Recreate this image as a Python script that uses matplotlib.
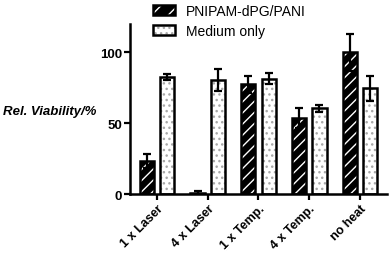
import numpy as np
import matplotlib.pyplot as plt
from matplotlib.patches import Patch

plt.rcParams['font.family'] = ['Liberation Sans', 'DejaVu Sans']
plt.rcParams['hatch.linewidth'] = 1.0

categories = ['1 x Laser', '4 x Laser', '1 x Temp.', '4 x Temp.', 'no heat']
pnipam = [23.5, 1.0, 77.5, 53.5, 100.0]
pnipam_err = [5.0, 1.0, 6.0, 7.0, 13.0]
medium = [82.5, 80.5, 81.5, 60.5, 74.5]
medium_err = [2.0, 8.0, 4.0, 2.5, 9.0]

fig = plt.figure(figsize=(3.89, 2.55), dpi=100)
ax = fig.add_axes([0.334, 0.235, 0.661, 0.667])

x = np.arange(len(categories))
w = 0.28
off = 0.2
dot_col = '#a8a8a8'

# hatched bars: black fill, white stripes, black outline
ax.bar(x - off, pnipam, w, facecolor='black', edgecolor='white', hatch='///', lw=0, zorder=2)
ax.bar(x - off, pnipam, w, fill=False, edgecolor='black', lw=1.8, zorder=3)
ax.errorbar(x - off, pnipam, yerr=pnipam_err, fmt='none', ecolor='black',
            elinewidth=1.6, capsize=3, capthick=1.6, zorder=4)

# dotted bars
ax.bar(x + off, medium, w, facecolor='white', edgecolor=dot_col, hatch='...', lw=0, zorder=2)
ax.bar(x + off, medium, w, fill=False, edgecolor='black', lw=1.8, zorder=3)
ax.errorbar(x + off, medium, yerr=medium_err, fmt='none', ecolor='black',
            elinewidth=1.6, capsize=3, capthick=1.6, zorder=4)

ax.set_xlim(-0.53, 4.53)
ax.set_ylim(0, 120)
ax.set_yticks([0, 50, 100])
ax.set_xticks(x)
ax.set_xticklabels(categories, rotation=45, ha='right', rotation_mode='anchor',
                   fontsize=9, fontweight='bold')
for lab in ax.get_yticklabels():
    lab.set_fontsize(9.5)
    lab.set_fontweight('bold')
ax.tick_params(axis='both', direction='out', length=4, width=1.6, pad=1.5)
ax.tick_params(axis='x', pad=2)

for s in ['top', 'right']:
    ax.spines[s].set_visible(False)
for s in ['left', 'bottom']:
    ax.spines[s].set_linewidth(1.8)

fig.text(0.008, 0.56, 'Rel. Viability/%', fontsize=9.5, fontweight='bold',
         style='italic', ha='left', va='center')

h1 = (Patch(facecolor='black', edgecolor='white', hatch='//', lw=0),
      Patch(fill=False, edgecolor='black', lw=1.8))
h2 = (Patch(facecolor='white', edgecolor=dot_col, hatch='...', lw=0),
      Patch(fill=False, edgecolor='black', lw=1.8))
fig.legend([h1, h2], ['PNIPAM-dPG/PANI', 'Medium only'], loc='upper left',
           bbox_to_anchor=(0.36, 1.03), frameon=False, fontsize=10,
           handlelength=1.6, handleheight=0.7, handletextpad=0.8, labelspacing=0.45)

fig.savefig('out.png', dpi=100)
